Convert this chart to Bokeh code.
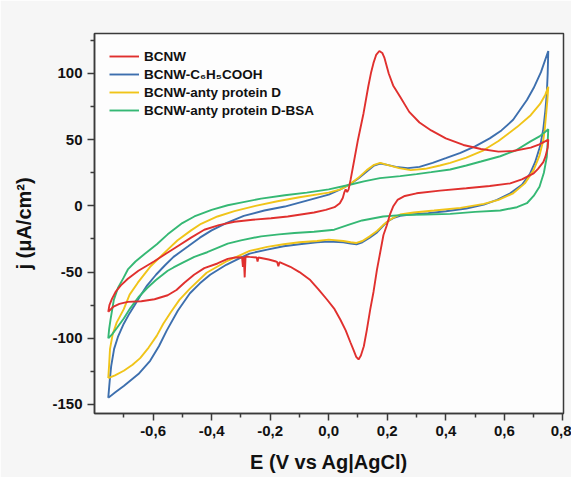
from bokeh.plotting import figure
from bokeh.models import (Range1d, FixedTicker, CustomJSTickFormatter, Legend, LegendItem)
from bokeh.embed import file_html
from bokeh.resources import INLINE

# ---------------- data ----------------
labels = ["BCNW", "BCNW-C\u2086H\u2085COOH", "BCNW-anty protein D", "BCNW-anty protein D-BSA"]

# BCNW (red): forward scan then reverse scan
bcnw_e = [-0.753, -0.749, -0.740, -0.728, -0.710, -0.686, -0.650, -0.597, -0.555, -0.516,
          -0.470, -0.425, -0.375, -0.322, -0.260, -0.197, -0.140, -0.095, -0.050, -0.010,
          0.020, 0.038, 0.048, 0.053, 0.058, 0.063, 0.068, 0.075, 0.085, 0.100,
          0.119, 0.135, 0.145, 0.153, 0.162, 0.173, 0.183, 0.190, 0.205, 0.220,
          0.245, 0.275, 0.310, 0.350, 0.400, 0.460, 0.520, 0.580, 0.630, 0.690,
          0.720, 0.750,
          0.748, 0.740, 0.733, 0.715, 0.700, 0.660, 0.620, 0.550, 0.470, 0.380,
          0.300, 0.260, 0.235, 0.220, 0.210, 0.198, 0.187, 0.176, 0.165, 0.153,
          0.142, 0.130, 0.120, 0.110, 0.102, 0.094, 0.085, 0.074, 0.058, 0.040,
          0.020, -0.006, -0.035, -0.063, -0.100, -0.131, -0.168, -0.172, -0.176, -0.180,
          -0.205, -0.240, -0.243, -0.246, -0.270, -0.284, -0.287, -0.290, -0.293, -0.296,
          -0.320, -0.345, -0.380, -0.425, -0.460, -0.493, -0.520, -0.550, -0.595, -0.640,
          -0.686, -0.715, -0.735, -0.753]
bcnw_j = [-80, -75, -70, -65, -60, -55, -49, -42, -36, -30.5,
          -24, -18, -14.5, -12, -10.5, -9.3, -8, -6.5, -5, -3,
          -1, 2, 6, 10, 12.5, 10.5, 12.5, 20, 32, 50,
          70, 90, 101, 108, 114, 117, 115.5, 112, 100, 91,
          82, 71, 63, 57, 51, 46, 43, 41, 41.5, 44,
          46.5, 50,
          44, 37, 33, 28, 24.5, 20, 17, 15, 13.3, 11.5,
          9.5, 7.5, 4.5, -0.5, -6, -15, -22, -35, -48, -65,
          -78, -94, -106, -113, -116, -114, -109, -103, -94, -86,
          -78, -70.7, -63, -56, -50, -46, -42.5, -45.5, -42.5, -42,
          -40.5, -39, -42, -39, -38.5, -38.2, -54, -38.5, -46, -38.8,
          -39, -40, -43.5, -47, -52, -58, -63.5, -67.5, -70.5, -72,
          -72.5, -74, -76, -80]

# BCNW-C6H5COOH (blue)
benz_e = [-0.753, -0.748, -0.743, -0.733, -0.720, -0.700, -0.680, -0.663, -0.644, -0.620,
          -0.590, -0.560, -0.530, -0.480, -0.440, -0.400, -0.350, -0.290, -0.220, -0.150,
          -0.100, -0.050, 0.000, 0.040, 0.070, 0.100, 0.130, 0.155, 0.176, 0.200,
          0.230, 0.270, 0.310, 0.355, 0.400, 0.450, 0.500, 0.550, 0.590, 0.630,
          0.677, 0.700, 0.725, 0.750,
          0.748, 0.745, 0.740, 0.733, 0.722, 0.705, 0.688, 0.660, 0.620, 0.575,
          0.530, 0.470, 0.400, 0.340, 0.280, 0.244, 0.220, 0.200, 0.186, 0.165,
          0.140, 0.115, 0.095, 0.075, 0.050, 0.000, -0.040, -0.100, -0.154, -0.210,
          -0.270, -0.300, -0.350, -0.405, -0.440, -0.474, -0.515, -0.553, -0.580, -0.610,
          -0.650, -0.700, -0.730, -0.753]
benz_j = [-145, -132, -121, -108, -99, -89, -81, -75, -68, -60,
          -52, -45, -38.5, -30.5, -24, -18.5, -13, -7.5, -3.5, -0.5,
          2.5, 5.5, 8.5, 12.5, 16, 20.5, 26, 30.5, 32, 31,
          29.5, 28.5, 29.5, 32.5, 36, 40, 45, 51, 57, 65,
          80, 89, 101, 117,
          100, 85, 72, 58, 45, 33, 24.5, 16, 9.5, 4.5,
          1, -2, -4, -5.5, -6.5, -7.5, -9.3, -12, -15, -20,
          -24, -27.5, -29, -28.5, -27.5, -27, -27.5, -29, -30.5, -33,
          -36, -39, -44.5, -52, -58.5, -66, -79, -94, -106, -117,
          -127, -136, -141, -145]

# BCNW-anty protein D (yellow)
prot_e = [-0.753, -0.750, -0.747, -0.738, -0.724, -0.700, -0.680, -0.652, -0.610, -0.550,
          -0.516, -0.470, -0.436, -0.380, -0.322, -0.250, -0.175, -0.100, 0.000, 0.040,
          0.070, 0.100, 0.130, 0.155, 0.176, 0.200, 0.240, 0.280, 0.330, 0.380,
          0.415, 0.470, 0.529, 0.580, 0.643, 0.690, 0.722, 0.740, 0.750,
          0.747, 0.743, 0.738, 0.733, 0.720, 0.700, 0.670, 0.630, 0.580, 0.530,
          0.450, 0.360, 0.290, 0.244, 0.220, 0.200, 0.186, 0.165, 0.140, 0.115,
          0.095, 0.075, 0.050, 0.000, -0.040, -0.100, -0.154, -0.210, -0.270, -0.300,
          -0.350, -0.417, -0.474, -0.510, -0.540, -0.565, -0.587, -0.615, -0.644, -0.670,
          -0.700, -0.730, -0.753]
prot_j = [-130, -120, -108, -97, -88, -78, -67, -58, -46, -33,
          -26, -18.5, -13.5, -8, -4, 0, 3.5, 6.5, 10, 12.5,
          16, 21, 27, 31, 32.5, 31, 28.5, 27, 28, 30.5,
          32.5, 36.5, 42, 49, 59.5, 68.5, 77, 84, 90,
          80, 70, 58, 49.5, 38, 27, 17, 9.5, 4.5, 1.5,
          -1.5, -3.5, -5, -6.5, -9, -12, -14.5, -19, -23, -26.5,
          -28, -27.5, -26.5, -25.5, -26.5, -27.5, -29, -31, -34, -37,
          -42, -50.5, -62.5, -71, -80.5, -89, -98, -107, -115, -120,
          -124.5, -128, -130]

# BCNW-anty protein D-BSA (green)
bsa_e = [-0.753, -0.750, -0.745, -0.734, -0.720, -0.700, -0.686, -0.660, -0.630, -0.587,
         -0.550, -0.500, -0.459, -0.400, -0.345, -0.300, -0.231, -0.150, -0.075, 0.000,
         0.072, 0.120, 0.175, 0.244, 0.300, 0.350, 0.415, 0.470, 0.520, 0.586,
         0.640, 0.688, 0.720, 0.740, 0.750,
         0.748, 0.745, 0.735, 0.720, 0.700, 0.677, 0.643, 0.586, 0.500, 0.415,
         0.330, 0.244, 0.186, 0.114, 0.072, 0.019, -0.050, -0.117, -0.170, -0.231,
         -0.300, -0.345, -0.415, -0.459, -0.500, -0.530, -0.550, -0.590, -0.620, -0.650,
         -0.677, -0.700, -0.723, -0.740, -0.753]
bsa_j = [-100, -93, -85.5, -71, -62, -54, -48, -42, -36.5, -29,
         -21.5, -13, -8, -3, 0.5, 2.5, 5.5, 8, 10, 12.5,
         16, 18.5, 21, 22.5, 24, 25.5, 27.5, 30.5, 33.5, 37.5,
         42, 48.5, 52.5, 56, 58,
         48, 37, 25, 14.5, 7.5, 2, -1, -3.5, -4.5, -6,
         -6.5, -7, -8, -11, -14, -18, -19.5, -20.5, -21.5, -23,
         -26, -28.5, -35, -38.5, -43, -46.5, -49, -56, -62, -69,
         -77, -85, -92, -97, -100]

x_ticks = [-0.6, -0.4, -0.2, 0.0, 0.2, 0.4, 0.6, 0.8]
x_minor = [-0.7, -0.5, -0.3, -0.1, 0.1, 0.3, 0.5, 0.7]
y_ticks = [-150, -100, -50, 0, 50, 100]
y_minor = [-125, -75, -25, 25, 75, 125]

colors = ["#e0302e", "#3d6fae", "#f0c419", "#35b874"]

# ---------------- figure ----------------
FONT = "Liberation Sans"
p = figure(width=571, height=477, output_backend="svg", toolbar_location=None,
           x_range=Range1d(-0.800, 0.802), y_range=Range1d(-156.8, 130.2),
           min_border_left=94, min_border_right=8, min_border_top=33, min_border_bottom=64,
           background_fill_color="#fdfdfd", border_fill_color="#f6f6f6")
p.grid.visible = False
p.outline_line_color = "#3a3a3a"
p.outline_line_width = 1.5

r_blue = p.line(benz_e, benz_j, line_color=colors[1], line_width=1.9)
r_yel = p.line(prot_e, prot_j, line_color=colors[2], line_width=1.9)
r_grn = p.line(bsa_e, bsa_j, line_color=colors[3], line_width=1.9)
r_red = p.line(bcnw_e, bcnw_j, line_color=colors[0], line_width=1.9)

legend = Legend(items=[LegendItem(label=labels[0], renderers=[r_red]),
                       LegendItem(label=labels[1], renderers=[r_blue]),
                       LegendItem(label=labels[2], renderers=[r_yel]),
                       LegendItem(label=labels[3], renderers=[r_grn])],
                location="top_left", margin=10, padding=5, spacing=2,
                glyph_width=30, glyph_height=16, label_height=16, label_standoff=5,
                label_text_font=FONT, label_text_font_style="bold",
                label_text_font_size="13.5px", label_text_color="#111111",
                background_fill_alpha=0, border_line_alpha=0)
p.add_layout(legend)

for ax in (p.xaxis[0], p.yaxis[0]):
    ax.axis_line_color = "#3a3a3a"
    ax.axis_line_width = 1.5
    ax.major_tick_line_color = "#3a3a3a"
    ax.minor_tick_line_color = "#3a3a3a"
    ax.major_tick_line_width = 1.5
    ax.minor_tick_line_width = 1.5
    ax.major_tick_in = 0
    ax.major_tick_out = 7
    ax.minor_tick_in = 0
    ax.minor_tick_out = 4
    ax.major_label_text_font = FONT
    ax.major_label_text_font_style = "bold"
    ax.major_label_text_font_size = "15px"
    ax.major_label_text_color = "#111111"
    ax.axis_label_text_font = FONT
    ax.axis_label_text_font_style = "bold"
    ax.axis_label_text_font_size = "20px"
    ax.axis_label_text_color = "#111111"
    ax.major_label_standoff = 5

p.xaxis[0].ticker = FixedTicker(ticks=x_ticks, minor_ticks=x_minor)
p.yaxis[0].ticker = FixedTicker(ticks=y_ticks, minor_ticks=y_minor)
p.xaxis[0].formatter = CustomJSTickFormatter(code="return tick.toFixed(1).replace('.', ',');")
p.yaxis[0].formatter = CustomJSTickFormatter(code="return tick.toFixed(0);")
p.xaxis[0].axis_label = "E (V vs Ag|AgCl)"
p.yaxis[0].axis_label = "j (\u03bcA/cm\u00b2)"
p.xaxis[0].axis_label_standoff = 12
p.yaxis[0].axis_label_standoff = 14

open("out.html", "w").write(file_html(p, INLINE))
